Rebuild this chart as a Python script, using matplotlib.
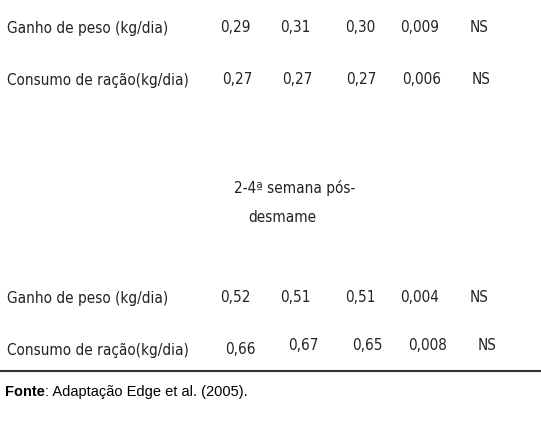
import matplotlib.pyplot as plt

# table content
row_labels = ["Ganho de peso (kg/dia)", "Consumo de ração(kg/dia)",
              "Ganho de peso (kg/dia)", "Consumo de ração(kg/dia)"]
col_a = ["0,29", "0,27", "0,52", "0,66"]
col_b = ["0,31", "0,27", "0,51", "0,67"]
col_c = ["0,30", "0,27", "0,51", "0,65"]
col_sem = ["0,009", "0,006", "0,004", "0,008"]
col_p = ["NS", "NS", "NS", "NS"]
section_title = ["2-4ª semana pós-", "desmame"]
source_bold = "Fonte"
source_rest = ": Adaptação Edge et al. (2005)."

FAM = ["DejaVu Sans"]
KW = dict(family=FAM, fontstretch="condensed", fontsize=11, va="center", color="#222222")

fig = plt.figure(figsize=(5.41, 4.32), dpi=100)
ax = fig.add_axes([0, 0, 1, 1])
ax.set_xlim(0, 541)
ax.set_ylim(432, 0)
ax.axis("off")

row_y = [28, 80, 298, 350]
val_y = [28, 80, 298, 346]
col_x = [[220, 280, 345, 400, 470], [222, 282, 346, 402, 472],
         [220, 280, 345, 400, 470], [225, 288, 352, 408, 478]]

for i, lab in enumerate(row_labels):
    ax.text(7, row_y[i], lab, ha="left", **KW)
    vals = [col_a[i], col_b[i], col_c[i], col_sem[i], col_p[i]]
    for j, v in enumerate(vals):
        y = row_y[i] if j == 0 else val_y[i]
        ax.text(col_x[i][j], y, v, ha="left", **KW)

ax.text(295, 188, section_title[0], ha="center", **KW)
ax.text(282, 218, section_title[1], ha="center", **KW)

ax.plot([0, 541], [371, 371], color="#333333", lw=1.5)

t = ax.text(5, 392, source_bold, fontsize=10.5, fontweight="bold", va="center", ha="left",
            family="Liberation Sans")
fig.canvas.draw()
bb = t.get_window_extent()
ax.text(bb.x1, 392, source_rest, fontsize=10.5, va="center", ha="left", family="Liberation Sans")

fig.savefig("out.png", dpi=100)
